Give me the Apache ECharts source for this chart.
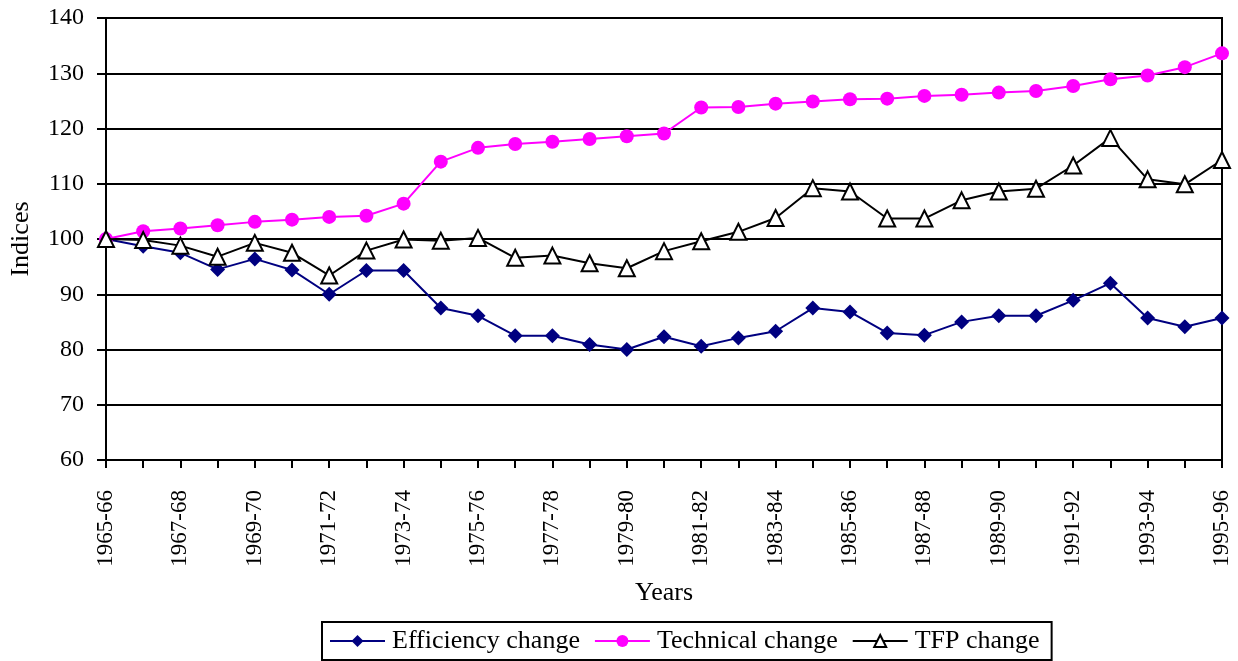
<!DOCTYPE html>
<html>
<head>
<meta charset="utf-8">
<script src="https://cdn.jsdelivr.net/npm/echarts@6/dist/echarts.min.js"></script>
<style>
  html, body { margin: 0; padding: 0; background: #fff; }
  #main { width: 1238px; height: 661px; }
</style>
</head>
<body>
<div id="main"></div>
<script>
// years 1965-66 .. 1995-96
var years = [];
for (var y = 1965; y <= 1995; y++) {
  years.push(y + "-" + String((y + 1) % 100).padStart(2, "0"));
}

var efficiency = [100, 98.7, 97.5, 94.5, 96.4, 94.4, 90.0, 94.3, 94.3, 87.5, 86.1,
  82.5, 82.5, 80.9, 80.0, 82.3, 80.6, 82.1, 83.3, 87.5, 86.8,
  83.0, 82.6, 85.0, 86.1, 86.1, 88.9, 92.0, 85.7, 84.1, 85.7];

var technical = [100, 101.4, 101.9, 102.5, 103.1, 103.5, 104.0, 104.2, 106.4, 114.0, 116.5,
  117.2, 117.6, 118.1, 118.6, 119.1, 123.8, 123.9, 124.5, 124.9, 125.3,
  125.4, 125.9, 126.1, 126.5, 126.8, 127.7, 128.9, 129.6, 131.1, 133.6];

var tfp = [100, 99.8, 98.8, 96.8, 99.3, 97.5, 93.4, 97.9, 99.9, 99.7, 100.2,
  96.6, 97.0, 95.6, 94.7, 97.8, 99.6, 101.3, 103.8, 109.2, 108.6,
  103.7, 103.7, 107.0, 108.6, 109.1, 113.3, 118.3, 110.8, 109.9, 114.3];

var font = "Liberation Serif";

var chart = echarts.init(document.getElementById("main"));

var option = {
  animation: false,
  backgroundColor: "#fff",
  textStyle: { fontFamily: font, color: "#000" },
  grid: {
    left: 106, right: 16, top: 18, bottom: 201,
    outerBoundsMode: "none",
    containLabel: false,
    show: true, borderColor: "#000", borderWidth: 2
  },
  legend: {
    left: 322, bottom: 1,
    orient: "horizontal",
    borderColor: "#000", borderWidth: 2, borderRadius: 0,
    padding: [6, 12, 6, 7],
    itemGap: 14,
    itemWidth: 55, itemHeight: 15,
    textStyle: { fontFamily: font, fontSize: 26, color: "#000", padding: [0, 0, 0, 2] },
    data: ["Efficiency change", "Technical change", "TFP change"]
  },
  xAxis: {
    type: "category",
    data: years,
    boundaryGap: false,
    name: "Years",
    nameLocation: "middle",
    nameGap: 120,
    nameTextStyle: { fontFamily: font, fontSize: 26, color: "#000" },
    axisLine: { lineStyle: { color: "#000", width: 2 } },
    axisTick: { show: true, interval: 0, length: 8, lineStyle: { color: "#000", width: 2 } },
    axisLabel: {
      interval: 1, rotate: 90, margin: 30,
      fontFamily: font, fontSize: 23, color: "#000"
    },
    splitLine: { show: false }
  },
  yAxis: {
    type: "value",
    min: 60, max: 140, interval: 10,
    name: "Indices",
    nameLocation: "middle",
    nameRotate: 90,
    nameGap: 72,
    nameTextStyle: { fontFamily: font, fontSize: 26, color: "#000" },
    axisLine: { show: true, lineStyle: { color: "#000", width: 2 } },
    axisTick: { show: true, length: 9, lineStyle: { color: "#000", width: 2 } },
    axisLabel: { margin: 22, fontFamily: font, fontSize: 24, color: "#000" },
    splitLine: { show: true, lineStyle: { color: "#000", width: 2 } }
  },
  series: [
    {
      name: "Efficiency change",
      type: "line",
      data: efficiency,
      symbol: "diamond",
      symbolSize: 15,
      lineStyle: { color: "#000080", width: 2 },
      itemStyle: { color: "#000080" },
      z: 3
    },
    {
      name: "Technical change",
      type: "line",
      data: technical,
      symbol: "circle",
      symbolSize: 14,
      lineStyle: { color: "#ff00ff", width: 2 },
      itemStyle: { color: "#ff00ff" },
      z: 4
    },
    {
      name: "TFP change",
      type: "line",
      data: tfp,
      symbol: "triangle",
      symbolSize: 16,
      lineStyle: { color: "#000", width: 2 },
      itemStyle: { color: "#fff", borderColor: "#000", borderWidth: 2 },
      z: 5
    }
  ]
};

chart.setOption(option);
</script>
</body>
</html>
